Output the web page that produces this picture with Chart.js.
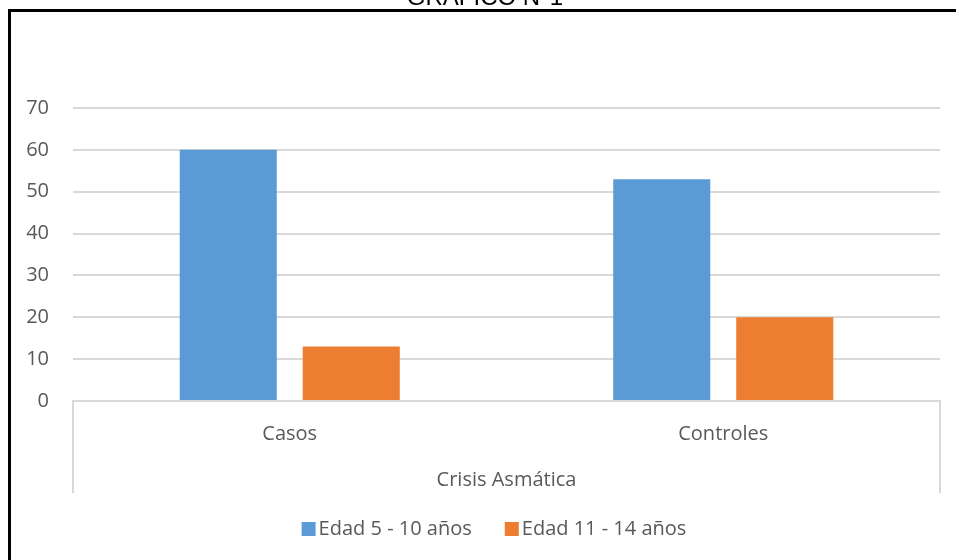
<!DOCTYPE html>
<html>
<head>
<meta charset="utf-8">
<script src="https://cdn.jsdelivr.net/npm/chart.js@4.4.1/dist/chart.umd.min.js"></script>
<style>
  html, body { margin: 0; padding: 0; background: #ffffff; }
  #wrap { width: 956px; height: 560px; position: relative; }
</style>
</head>
<body>
<div id="wrap"><canvas id="chart" width="956" height="560"></canvas></div>
<script>
// Chart data
const categories = ['Casos', 'Controles'];
const groupLabel = 'Crisis Asmática';
const seriesNames = ['Edad 5 - 10 años', 'Edad 11 - 14 años'];
const edad5a10 = [60, 53];
const edad11a14 = [13, 20];
const yTicks = [0, 10, 20, 30, 40, 50, 60, 70];
const chartTitle = 'GRÁFICO N°1';

const FONT = "'Open Sans', sans-serif";
const FONT_SIZE = 20;
const TEXT_COLOR = '#595959';
const GRID_COLOR = '#d9d9d9';

// Frame, title, group-level axis label and legend
const decorations = {
  id: 'decorations',
  beforeDraw(chart) {
    const ctx = chart.ctx;
    ctx.save();
    ctx.fillStyle = '#ffffff';
    ctx.fillRect(0, 0, chart.width, chart.height);
    ctx.restore();
  },
  afterDraw(chart) {
    const ctx = chart.ctx;
    const area = chart.chartArea;
    ctx.save();

    // outer frame
    ctx.strokeStyle = '#000000';
    ctx.lineWidth = 3;
    ctx.strokeRect(9.5, 10.5, 960, 600);

    // title
    ctx.fillStyle = '#000000';
    ctx.font = "24px 'Liberation Sans', Arial, sans-serif";
    ctx.textAlign = 'center';
    ctx.textBaseline = 'alphabetic';
    ctx.fillText(chartTitle, 485, 5);

    // group separators of the category axis
    ctx.strokeStyle = GRID_COLOR;
    ctx.lineWidth = 2;
    ctx.beginPath();
    ctx.moveTo(area.left, area.bottom);
    ctx.lineTo(area.left, 493);
    ctx.moveTo(area.right, area.bottom);
    ctx.lineTo(area.right, 493);
    ctx.stroke();

    // group label
    ctx.fillStyle = TEXT_COLOR;
    ctx.font = FONT_SIZE + 'px ' + FONT;
    ctx.textAlign = 'center';
    ctx.textBaseline = 'middle';
    ctx.fillText(groupLabel, (area.left + area.right) / 2, 480);

    // legend
    const box = 14, gap = 3, spacing = 33;
    const items = chart.data.datasets.map(ds => ({
      label: ds.label, color: ds.backgroundColor,
      w: ctx.measureText(ds.label).width
    }));
    let total = 0;
    items.forEach((it, i) => { total += box + gap + it.w + (i ? spacing : 0); });
    let x = 494 - total / 2;
    const cy = 529;
    ctx.textAlign = 'left';
    items.forEach((it, i) => {
      if (i) x += spacing;
      ctx.fillStyle = it.color;
      ctx.fillRect(x, cy - box / 2, box, box);
      x += box + gap;
      ctx.fillStyle = TEXT_COLOR;
      ctx.fillText(it.label, x, cy);
      x += it.w;
    });

    ctx.restore();
  }
};

new Chart(document.getElementById('chart'), {
  type: 'bar',
  data: {
    labels: categories,
    datasets: [
      { label: seriesNames[0], data: edad5a10, backgroundColor: '#5b9bd5' },
      { label: seriesNames[1], data: edad11a14, backgroundColor: '#ed7d31' }
    ]
  },
  options: {
    responsive: false,
    animation: false,
    layout: { padding: { top: 108, right: 16, bottom: 0, left: 0 } },
    datasets: {
      bar: { categoryPercentage: 0.5675, barPercentage: 0.789 }
    },
    plugins: {
      legend: { display: false },
      title: { display: false },
      tooltip: { enabled: false }
    },
    scales: {
      x: {
        grid: { display: false, drawTicks: false },
        border: { display: true, color: GRID_COLOR, width: 2 },
        ticks: {
          color: TEXT_COLOR,
          font: { family: FONT, size: FONT_SIZE },
          padding: 21
        },
        afterFit(scale) { scale.height = 159; }
      },
      y: {
        min: 0,
        max: 70,
        afterBuildTicks(scale) { scale.ticks = yTicks.map(v => ({ value: v })); },
        grid: { color: GRID_COLOR, lineWidth: 2, drawTicks: false },
        border: { display: false },
        ticks: {
          color: TEXT_COLOR,
          font: { family: FONT, size: FONT_SIZE },
          padding: 24
        },
        afterFit(scale) { scale.width = 73; }
      }
    }
  },
  plugins: [decorations]
});
</script>
</body>
</html>
